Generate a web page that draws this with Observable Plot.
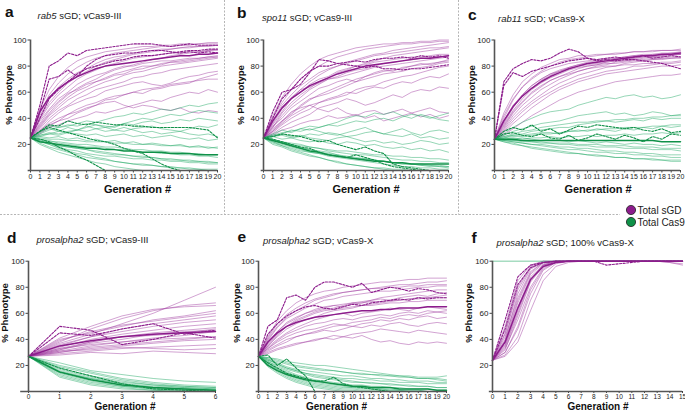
<!DOCTYPE html>
<html><head><meta charset="utf-8">
<script src="https://cdn.jsdelivr.net/npm/d3@7"></script>
<script src="https://cdn.jsdelivr.net/npm/@observablehq/plot@0.6"></script>
<style>
body{margin:0;background:#fff;}
#root{position:relative;width:685px;height:412px;overflow:hidden;font-family:"Liberation Sans",Arial,sans-serif;}
.panel{position:absolute;}
#overlay{position:absolute;left:0;top:0;pointer-events:none;}
</style></head><body><div id="root"></div>
<script>
// ---------- Panel a: rab5 sGD; vCas9-III ----------
const aSgdThin = [
[25,40,52,60,67,72,76,80,83,85,87,89,90,91,92,93,94,94,95,95,96],
[25,35,44,52,58,63,67,70,74,77,79,81,83,85,86,88,89,90,91,92,93],
[25,32,40,46,50,55,58,62,64,66,68,71,72,74,75,77,78,79,80,81,82],
[25,44,58,67,74,79,83,86,88,90,91,92,93,94,95,95,96,96,97,97,97],
[25,30,35,38,43,45,48,50,54,55,58,60,59,62,63,65,66,67,70,72,74],
[25,38,47,55,60,66,70,73,75,78,80,80,82,83,84,84,85,86,86,87,87],
[25,28,33,35,38,40,42,45,44,46,48,50,52,54,53,56,58,60,59,62,60],
[25,42,55,64,70,75,78,82,85,87,88,90,91,92,93,93,94,95,95,96,96],
[25,33,42,48,54,58,62,65,68,70,73,75,76,78,80,81,82,83,84,85,86],
[25,36,46,53,59,62,66,68,70,73,74,77,78,80,81,83,84,85,86,87,88],
[25,31,36,40,43,47,50,52,55,57,58,60,62,63,64,66,67,68,69,70,70],
[25,47,62,72,79,84,87,89,91,92,93,94,95,95,96,96,97,97,97,98,98],
[25,29,34,38,40,44,47,50,52,53,50,48,50,49,47,46,48,45,44,46,45],
[25,39,50,58,64,70,74,77,80,82,84,86,87,88,89,90,90,91,91,92,92],
[25,34,43,50,56,61,64,68,71,74,76,78,80,80,82,83,83,84,85,86,87],
[25,30,38,44,49,52,55,57,61,63,65,67,68,66,65,67,70,72,73,75,76]
];
const aCas9Thin = [
[25,23,21,19,18,17,16,15,14,13,12,11,11,10,9,9,8,8,7,7,6],
[25,27,29,28,30,31,30,32,33,31,30,32,33,34,32,31,30,32,34,33,35],
[25,21,18,16,14,12,10,9,8,7,6,5,4,4,3,2,2,1,1,0,0],
[25,28,31,33,34,36,38,37,39,41,42,44,43,45,47,46,48,50,49,51,52],
[25,24,22,22,21,20,20,19,18,18,17,16,16,15,15,14,14,13,13,12,12],
[25,22,20,17,15,13,12,10,9,7,6,5,5,4,3,3,2,2,1,1,1],
[25,26,25,26,24,25,23,24,22,23,21,22,20,21,20,19,20,18,19,17,18],
[25,30,34,33,35,34,36,35,33,34,36,35,37,38,36,37,39,38,40,39,38],
[25,23,20,18,16,15,13,12,11,11,10,9,9,8,8,7,7,6,6,5,5],
[25,25,24,24,23,23,22,22,22,21,21,20,20,20,19,19,19,18,18,18,17],
[25,20,17,14,12,10,8,6,5,3,2,1,0,0,0,0,0,0,0,0,0],
[25,27,28,27,29,28,27,28,26,27,28,26,27,25,26,27,25,24,25,23,24],
[25,24,23,21,20,19,18,18,17,16,16,15,14,14,13,13,12,12,11,11,10],
[25,29,32,30,33,31,34,32,30,31,33,31,29,30,28,29,30,28,27,28,26],
[25,22,21,19,18,17,16,14,13,12,12,11,10,10,9,8,8,7,7,6,6],
[25,26,28,30,29,31,33,35,34,33,36,38,40,39,41,43,42,44,46,45,44]
];
const aSgdMean = [25,45,56,63,68,72,75,78,80,81,82,83,84,85,86,87,88,88,89,89,90];
const aSgdDash = [
[25,50,80,84,90,88,92,93,94,95,96,97,97,97,96,95,96,97,96,96,96],
[25,45,70,72,77,72,80,85,88,89,90,90,91,92,92,91,90,91,90,91,90],
[25,40,55,62,68,74,78,80,82,84,85,87,88,88,89,90,91,92,92,93,93]
];
const aCas9Mean = [25,22,21,20,19,18,17,17,16,16,15,15,14,14,14,13,13,13,12,12,12];
const aCas9Dash = [
[25,30,35,34,38,36,35,37,36,35,35,34,34,33,33,33,33,33,32,31,25],
[25,30,33,31,29,27,25,23,22,20,17,15,13,9,5,2,0,0,0,0,0],
[25,24,22,18,15,11,8,4,0,0,0,0,0,0,0,0,0,0,0,0,0]
];

// ---------- Panel b: spo11 sGD; vCas9-III ----------
const bSgdThin = [
[25,35,45,55,62,68,73,77,80,83,85,87,89,90,92,93,94,95,96,97,98],
[25,38,50,58,65,70,75,78,80,82,84,86,88,89,90,91,92,93,94,94,95],
[25,30,36,42,46,50,52,55,57,60,59,62,64,63,66,68,67,70,72,71,74],
[25,32,38,45,48,50,47,45,48,44,42,45,46,43,45,47,44,46,48,45,44],
[25,40,52,62,70,76,80,84,87,89,91,93,94,95,96,97,97,98,98,99,99],
[25,33,42,50,56,62,66,70,72,75,77,78,80,82,83,84,85,86,86,87,88],
[25,28,33,37,40,43,48,50,52,55,53,50,52,55,58,56,60,62,61,64,63],
[25,36,47,55,60,66,70,72,76,78,80,81,83,84,85,86,87,87,88,89,89],
[25,31,38,43,49,54,58,61,64,67,70,72,74,76,77,78,80,81,82,83,84],
[25,34,40,48,53,58,63,65,68,70,68,72,75,77,76,79,80,82,81,83,85],
[25,27,31,33,36,38,39,42,40,41,43,40,42,38,40,42,44,41,43,40,42],
[25,42,56,66,74,80,85,88,90,92,94,95,96,97,97,98,98,99,99,100,100],
[25,30,37,44,50,55,57,59,62,65,68,70,72,74,75,76,78,79,80,82,83],
[25,37,48,56,62,64,67,70,71,73,75,77,79,80,81,82,83,84,85,86,87],
[25,29,35,40,44,47,52,54,56,58,62,64,65,68,70,72,73,75,77,79,80],
[25,33,44,52,58,63,68,71,75,77,80,82,84,86,88,89,90,91,92,93,94]
];
const bCas9Thin = [
[25,23,21,20,18,16,15,14,12,11,10,9,8,7,6,5,5,4,3,3,2],
[25,27,29,30,32,31,33,35,34,36,38,37,39,40,38,41,43,42,40,42,44],
[25,22,19,16,14,12,10,8,7,5,4,3,2,1,0,0,0,0,0,0,0],
[25,26,27,25,26,28,27,29,28,26,27,29,30,28,27,26,28,25,26,24,25],
[25,24,22,20,19,18,17,15,14,13,12,12,11,10,9,8,8,7,7,6,6],
[25,20,18,15,13,11,10,8,6,5,4,3,2,2,1,1,0,0,0,0,0],
[25,28,31,29,32,34,33,35,37,40,42,41,44,43,45,42,40,43,41,39,38],
[25,23,22,21,20,18,17,16,15,15,14,13,12,12,11,11,10,10,9,9,8],
[25,26,24,25,23,22,23,21,20,22,21,19,20,18,17,18,16,17,15,16,14],
[25,21,19,17,15,14,13,12,11,10,9,8,8,7,6,6,5,5,4,4,3],
[25,27,28,26,27,25,24,23,25,26,24,22,23,21,22,20,21,23,22,20,21],
[25,24,21,19,17,16,14,13,12,10,9,9,8,7,6,5,5,4,4,3,3],
[25,26,28,31,30,32,30,28,27,29,31,33,30,28,30,32,29,27,30,31,29],
[25,22,20,18,16,14,13,11,10,9,8,7,6,5,4,3,3,2,2,1,1]
];
const bSgdMean = [25,38,48,55,60,65,68,71,74,76,78,80,81,82,83,84,85,86,86,87,88];
const bSgdDash = [
[25,45,60,62,66,75,85,84,82,81,80,79,80,78,78,77,78,78,79,80,81],
[25,40,55,62,70,76,80,80,82,83,84,83,85,86,86,87,86,88,87,88,86]
];
const bCas9Mean = [25,23,21,19,17,15,14,12,11,10,9,8,7,7,6,6,5,5,5,5,5];
const bCas9Dash = [
[25,26,28,27,26,24,22,23,20,18,16,18,15,13,5,3,2,1,0,0,0],
[25,24,22,20,18,17,14,12,11,10,12,10,8,5,3,2,1,0,0,0,0]
];

// ---------- Panel c: rab11 sGD; vCas9-X ----------
const cSgdThin = [
[24,36,48,58,65,70,74,77,79,81,83,84,85,86,87,88,89,89,90,90,91],
[24,32,42,50,56,62,66,70,73,76,78,80,81,83,84,85,86,87,87,88,89],
[24,40,54,64,71,76,80,83,85,86,87,88,89,89,90,91,91,92,92,92,93],
[24,29,36,42,48,53,58,62,65,68,70,72,74,75,76,77,78,79,80,80,81],
[24,35,46,55,62,67,71,74,77,79,80,81,82,82,83,84,84,85,85,86,86],
[24,44,58,68,74,79,82,85,86,88,88,89,89,90,90,91,91,91,92,92,92],
[24,30,38,45,51,56,60,64,67,70,72,74,76,77,78,80,80,81,82,82,83],
[24,38,50,58,65,70,74,76,79,81,82,83,84,85,86,86,87,88,88,89,89],
[24,27,32,37,42,46,50,54,57,60,62,64,66,68,69,70,71,72,73,73,74],
[24,33,44,52,59,64,69,72,75,78,80,81,83,84,85,86,87,87,88,89,89],
[24,37,49,57,63,69,73,76,78,80,81,82,83,84,84,85,85,86,86,86,87],
[24,31,40,47,53,58,63,67,70,73,75,77,79,80,82,83,84,85,86,87,87],
[24,42,55,64,70,75,78,80,82,83,84,85,86,86,87,88,88,89,89,90,90],
[24,34,45,53,60,65,69,72,74,76,78,79,80,80,81,81,82,82,83,83,84]
];
const cCas9Thin = [
[24,25,27,28,30,31,32,33,33,35,36,37,38,37,38,39,38,40,39,40,40],
[24,23,22,21,20,19,18,17,16,16,15,14,14,13,13,12,12,11,11,10,10],
[24,28,33,37,40,43,45,46,47,50,52,54,56,55,57,58,56,57,55,56,58],
[24,24,25,24,25,25,26,25,26,26,27,26,27,27,28,27,28,28,29,28,29],
[24,22,21,19,18,17,16,15,14,13,12,12,11,10,10,9,9,8,8,7,7],
[24,26,28,30,31,33,34,35,36,37,37,38,38,39,39,40,40,41,41,42,42],
[24,23,23,22,22,21,21,20,20,19,19,18,18,18,17,17,17,16,16,16,15],
[24,25,26,26,27,28,28,29,30,30,31,31,32,32,33,33,33,34,34,35,35],
[24,22,20,19,17,16,15,14,13,13,12,11,11,10,10,9,9,9,8,8,8],
[24,24,23,23,22,22,21,21,21,20,20,20,19,19,19,18,18,18,17,17,17],
[24,26,27,27,28,29,29,28,30,31,30,32,31,30,32,31,33,32,34,33,34],
[24,23,22,21,20,20,19,18,18,17,17,16,15,15,14,14,13,13,12,12,12],
[24,27,30,32,34,36,37,38,40,42,43,44,45,43,44,42,43,45,44,42,43],
[24,24,24,25,24,23,24,23,22,23,22,21,22,21,20,21,20,20,19,20,19]
];
const cSgdMean = [24,38,49,57,63,68,72,75,78,80,82,83,84,85,86,87,88,88,89,89,90];
const cSgdDash = [
[24,68,78,82,85,84,86,90,93,91,86,84,85,84,85,85,84,83,82,80,78],
[24,65,75,72,76,78,80,82,84,85,86,85,86,87,86,87,88,86,87,88,87]
];
const cCas9Mean = [24,24,24,23,23,23,23,23,23,23,23,23,23,23,23,23,23,23,22,22,22];
const cCas9Dash = [
[24,30,33,31,35,30,32,28,31,34,33,35,34,33,32,33,31,30,32,29,30],
[24,28,29,27,26,28,25,24,27,23,25,28,26,24,27,25,22,26,24,28,27]
];

// ---------- Panel d: prosalpha2 sGD; vCas9-III ----------
const dSgdThin = [
[27,32,38,42,45,47,49],[27,36,42,48,52,55,58],[27,30,33,35,37,39,40],
[27,40,45,50,55,58,62],[27,33,36,38,40,41,42],[27,28,30,29,31,30,29],
[27,38,48,56,62,66,68],[27,34,40,44,47,50,52],[27,31,35,38,41,43,46],
[27,35,42,46,50,53,55],[27,37,44,52,60,70,80],[27,29,31,33,34,35,36],
[27,32,37,40,44,46,47],[27,39,46,51,54,57,60],[27,33,38,42,43,45,48],
[27,30,34,36,38,40,42],[27,41,50,58,63,65,66],[27,31,32,34,33,32,33]
];
const dCas9Thin = [
[27,15,9,5,3,2,1],[27,18,12,8,5,3,2],[27,12,6,3,1,0,0],[27,20,15,10,7,5,4],
[27,14,8,4,2,1,0],[27,16,10,6,4,3,2],[27,22,16,13,10,8,7],[27,13,7,4,2,1,1],
[27,17,11,7,5,4,3],[27,11,5,2,1,0,0],[27,19,14,9,6,4,3],[27,15,10,6,3,2,1]
];
const dSgdMean = [27,35,39,42,44,45,46];
const dSgdDash = [[27,50,47,36,40,45,41],[27,45,43,48,52,44,47]];
const dCas9Mean = [27,15,9,5,3,2,1];
const dCas9Dash = [[27,18,12,6,2,1,0]];

// ---------- Panel e: prosalpha2 sGD; vCas9-X ----------
const eSgdThin = [
[27,35,42,48,52,55,57,60,62,63,64,66,67,68,69,70,71,72,72,73,74],
[27,40,50,57,62,66,70,72,74,76,77,78,79,80,81,82,82,83,84,84,85],
[27,32,36,40,42,44,45,47,46,48,50,49,51,50,52,53,51,50,52,53,52],
[27,38,46,52,56,60,62,64,66,65,67,68,70,71,70,72,73,74,73,75,76],
[27,30,33,35,37,38,40,41,40,42,41,43,40,38,39,37,36,38,37,38,37],
[27,42,54,62,68,72,75,77,78,80,81,82,83,84,84,85,86,86,87,87,87],
[27,34,40,45,49,52,55,57,59,60,58,60,61,62,64,63,62,64,65,64,63],
[27,36,44,50,55,58,61,63,64,66,68,69,70,72,73,74,75,76,77,78,78],
[27,31,35,38,42,44,46,48,50,51,53,54,55,57,56,58,59,58,60,61,60],
[27,37,46,53,57,60,63,65,66,67,68,68,69,69,70,70,71,71,72,72,72],
[27,33,38,42,45,47,48,50,52,51,50,52,53,55,54,56,55,57,58,56,57],
[27,39,49,56,60,64,67,70,71,73,74,75,76,77,77,78,79,80,80,81,81],
[27,29,32,34,36,38,39,41,43,42,44,45,46,48,47,46,45,47,46,45,44],
[27,35,43,50,54,57,60,62,63,64,65,66,66,67,68,68,69,69,70,70,70],
[27,33,39,44,47,50,52,53,55,56,55,57,58,59,58,60,61,60,62,61,62],
[27,41,52,59,64,68,71,73,75,76,77,78,79,79,80,80,81,81,82,82,82]
];
const eCas9Thin = [
[27,22,18,15,12,10,8,7,6,5,4,3,3,2,2,1,1,1,0,0,0],
[27,24,21,18,16,14,12,11,10,9,8,7,7,6,6,5,5,4,4,3,3],
[27,19,14,10,7,5,3,2,1,0,0,0,0,0,0,0,0,0,0,0,0],
[27,26,24,22,20,19,18,17,16,15,14,13,13,12,12,11,11,10,10,10,9],
[27,21,16,12,9,7,5,4,3,2,2,1,1,1,0,0,0,0,0,0,0],
[27,25,23,21,19,18,17,16,16,15,14,14,13,13,12,12,12,11,11,11,12],
[27,23,19,16,13,11,9,8,7,6,5,5,4,4,3,3,2,2,2,1,1],
[27,20,15,11,8,6,4,3,2,1,1,0,0,0,0,0,0,0,0,0,0],
[27,24,22,19,17,16,15,14,13,12,12,11,10,10,9,9,8,8,8,7,7],
[27,22,17,14,11,9,7,6,5,4,3,3,2,2,1,1,1,1,0,0,0],
[27,26,25,23,22,21,20,20,19,18,17,16,15,14,13,12,11,10,10,9,8],
[27,21,17,13,10,8,6,5,4,3,3,2,2,1,1,1,0,0,0,0,0],
[27,23,20,17,15,13,11,10,9,8,7,7,6,6,5,5,4,4,4,3,3],
[27,25,21,18,16,14,13,12,11,10,10,9,9,8,8,7,7,7,6,6,6]
];
const eSgdMean = [27,38,45,50,53,55,57,58,59,60,61,62,62,63,63,64,64,64,65,65,65];
const eSgdDash = [
[27,50,55,72,74,70,80,84,84,82,80,83,76,78,80,79,77,79,78,76,75],
[27,44,52,58,62,65,66,64,63,65,67,66,68,69,70,71,70,72,71,72,72]
];
const eCas9Mean = [27,20,16,13,11,9,8,7,6,5,4,4,3,3,3,2,2,2,2,1,1];
const eCas9Dash = [
[27,28,20,25,18,12,0,0,0,0,0,0,0,0,0,0,0,0,0,0,0],
[27,22,18,14,12,10,8,8,11,6,4,3,2,1,0,0,0,0,0,0,0]
];

// ---------- Panel f: prosalpha2 sGD; 100% vCas9-X ----------
const fSgdThin = [
[24,40,75,94,99,100,100,100,100,100,100,100,100,100,100,100],
[24,35,62,86,97,99,100,100,100,100,100,100,100,100,100,100],
[24,30,48,75,93,99,100,100,100,100,100,100,100,100,100,100],
[24,45,80,96,100,100,100,100,100,100,100,100,100,100,100,100],
[24,38,68,90,98,100,100,100,100,100,100,100,100,100,100,100],
[24,33,55,80,95,99,100,100,100,100,100,100,100,100,100,100],
[24,42,72,92,99,100,100,100,100,100,100,100,100,100,99,98],
[24,28,42,70,90,98,100,100,100,100,100,100,100,100,100,100],
[24,36,65,88,97,100,100,100,100,100,100,100,100,100,100,100],
[24,50,85,97,100,100,100,100,100,100,100,100,100,100,100,100],
[24,32,58,84,96,99,100,100,100,100,100,100,100,100,99,97],
[24,39,70,91,99,100,100,100,100,100,100,100,100,100,100,100],
[24,34,60,85,97,100,100,100,100,100,100,100,100,100,100,100],
[24,30,50,78,94,99,100,100,100,100,100,100,100,100,100,100],
[24,27,38,62,85,96,99,100,100,100,100,100,100,100,100,100],
[24,44,78,95,99,100,100,100,100,100,100,100,100,100,100,100]
];
const fCas9Thin = [[100,100,100,100,100,100,100,100,100,100,100,100,100,100,100,100]];
const fSgdMean = [24,38,64,86,96,99,100,100,100,100,100,100,100,100,100,100];
const fSgdDash = [
[24,55,88,97,99,100,100,100,100,97,98,99,100,100,100,100],
[24,48,82,95,99,100,100,100,100,100,100,100,100,100,100,100]
];

// ---------- Labels ----------
const letters = ["a","b","c","d","e","f"];
const genes = ["rab5","spo11","rab11","prosalpha2","prosalpha2","prosalpha2"];
const drivers = [" sGD; vCas9-III"," sGD; vCas9-III"," sGD; vCas9-X"," sGD; vCas9-III"," sGD; vCas9-X"," sGD; 100% vCas9-X"];
const yTickValues = [20,40,60,80,100];
const legendLabels = ["Total sGD","Total Cas9"];
const xLabel = "Generation #";
const yLabel = "% Phenotype";

const PURPLE = "#8c1c8c", PURPLE_THIN = "#a13ea0";
const GREEN = "#0f9148", GREEN_THIN = "#22a865";

const panels = [
  {left:0, top:0, w:225, h:200, mL:30, mR:8, mT:39.5, mB:30, n:20, sgd:aSgdThin, cas:aCas9Thin, sgdM:aSgdMean, casM:aCas9Mean, sgdD:aSgdDash, casD:aCas9Dash},
  {left:225, top:0, w:234, h:200, mL:38, mR:11, mT:39.5, mB:30, n:20, sgd:bSgdThin, cas:bCas9Thin, sgdM:bSgdMean, casM:bCas9Mean, sgdD:bSgdDash, casD:bCas9Dash},
  {left:459, top:0, w:226, h:200, mL:35, mR:5, mT:39.5, mB:30, n:20, sgd:cSgdThin, cas:cCas9Thin, sgdM:cSgdMean, casM:cCas9Mean, sgdD:cSgdDash, casD:cCas9Dash},
  {left:0, top:200, w:225, h:212, mL:28, mR:10, mT:60.7, mB:21, n:6, sgd:dSgdThin, cas:dCas9Thin, sgdM:dSgdMean, casM:dCas9Mean, sgdD:dSgdDash, casD:dCas9Dash},
  {left:225, top:200, w:234, h:212, mL:33, mR:13, mT:60.7, mB:21, n:20, sgd:eSgdThin, cas:eCas9Thin, sgdM:eSgdMean, casM:eCas9Mean, sgdD:eSgdDash, casD:eCas9Dash},
  {left:459, top:200, w:226, h:212, mL:33, mR:3, mT:60.7, mB:21, n:15, sgd:fSgdThin, cas:fCas9Thin, sgdM:fSgdMean, casM:null, sgdD:fSgdDash, casD:[]}
];

function rows(series, key) {
  return series.flatMap((vals, i) => vals.map((v, g) => ({g, v, id: key + i})));
}

const root = document.getElementById("root");
panels.forEach((p, k) => {
  const bottom = p.top > 0;
  const marks = [
    Plot.line(rows(p.sgd, "s"), {x:"g", y:"v", z:"id", stroke:PURPLE_THIN, strokeOpacity:0.5, strokeWidth:0.95}),
    Plot.line(rows(p.cas, "c"), {x:"g", y:"v", z:"id", stroke:GREEN_THIN, strokeOpacity: k === 5 ? 0.4 : 0.5, strokeWidth: k === 5 ? 1.4 : 0.95}),
    Plot.line(rows(p.sgdD, "sd"), {x:"g", y:"v", z:"id", stroke:PURPLE, strokeWidth:1.1, strokeDasharray:"2.2,1.4"}),
    Plot.line(rows(p.casD, "cd"), {x:"g", y:"v", z:"id", stroke:GREEN, strokeWidth:1.1, strokeDasharray:"2.2,1.4"}),
    Plot.line(rows([p.sgdM], "sm"), {x:"g", y:"v", z:"id", stroke:PURPLE, strokeWidth:1.5}),
  ];
  if (p.casM) marks.push(Plot.line(rows([p.casM], "cm"), {x:"g", y:"v", z:"id", stroke:GREEN, strokeWidth:1.5}));
  marks.push(
    Plot.axisX({ticks: d3.range(0, p.n + 1), tickSize: bottom ? 2 : 2.5, tickPadding: bottom ? 0.5 : 1.5, fontSize: bottom ? 6.5 : 7, tickFormat: d => String(d), label:null, stroke:"#444"}),
    Plot.axisY({ticks: yTickValues, tickSize:2.5, tickPadding:1.5, fontSize:8, label:null, stroke:"#444"}),
    Plot.ruleX([0], {stroke:"#555", strokeWidth:1.6}),
    Plot.ruleY([0], {stroke:"#555", strokeWidth:1.6, x1:-0.25, x2:p.n})
  );
  const chart = Plot.plot({
    width:p.w, height:p.h,
    marginLeft:p.mL, marginRight:p.mR, marginTop:p.mT, marginBottom:p.mB,
    x:{domain:[0,p.n]}, y:{domain:[0,100]},
    style:{fontFamily:"'Liberation Sans', Arial, sans-serif", color:"#222", background:"transparent", overflow:"visible"},
    marks
  });
  const div = document.createElement("div");
  div.className = "panel";
  div.style.left = p.left + "px";
  div.style.top = p.top + "px";
  div.appendChild(chart);
  root.appendChild(div);
});

// ---------- Overlay text, separators, legend ----------
const svg = d3.select(root).append("svg").attr("id","overlay").attr("width",685).attr("height",412)
  .style("font-family","'Liberation Sans', Arial, sans-serif");

const sep = svg.append("g").attr("stroke","#b5b5b5").attr("stroke-width",1).attr("stroke-dasharray","2,1.5").attr("fill","none");
sep.append("line").attr("x1",224.5).attr("x2",224.5).attr("y1",0).attr("y2",214.5);
sep.append("line").attr("x1",458.5).attr("x2",458.5).attr("y1",0).attr("y2",214.5);
sep.append("line").attr("x1",0).attr("x2",620).attr("y1",214.5).attr("y2",214.5);

const letterPos = [[5,17],[237,18],[468,20],[7,243],[237.5,242],[471.5,243]];
const subPos = [[37.5,19],[262,20.5],[498,22],[36.5,243],[263,244],[496.5,246]];
const yLabPos = [[11.5,95],[243.5,95],[474.5,95],[8,313],[240,313],[472,313]];
const xLabPos = [[137.5,193],[366,193],[598,193],[125,409.5],[336.5,409.5],[598,409.5]];

letters.forEach((L, i) => {
  svg.append("text").attr("x", letterPos[i][0]).attr("y", letterPos[i][1])
    .attr("font-size", 15.5).attr("font-weight", "bold").attr("fill", "#111").text(L);
  const t = svg.append("text").attr("x", subPos[i][0]).attr("y", subPos[i][1]).attr("font-size", 9.5).attr("fill", "#222");
  t.append("tspan").attr("font-style", "italic").text(genes[i]);
  t.append("tspan").text(drivers[i]);
  svg.append("text").attr("transform", `translate(${yLabPos[i][0]},${yLabPos[i][1]}) rotate(-90)`)
    .attr("text-anchor", "middle").attr("font-size", 9.5).attr("font-weight", "bold").attr("fill", "#111").text(yLabel);
  svg.append("text").attr("x", xLabPos[i][0]).attr("y", xLabPos[i][1]).attr("text-anchor", "middle")
    .attr("font-size", i > 2 ? 10 : 11).attr("font-weight", "bold").attr("fill", "#111").text(xLabel);
});

const legColors = [PURPLE, GREEN];
legendLabels.forEach((lab, i) => {
  const y = 210 + i * 12;
  svg.append("circle").attr("cx", 631).attr("cy", y).attr("r", 4.6).attr("fill", legColors[i]).attr("stroke", "#222").attr("stroke-width", 0.8);
  svg.append("text").attr("x", 637.5).attr("y", y + 3.6).attr("font-size", 10).attr("fill", "#222").text(lab);
});
</script>
</body></html>
